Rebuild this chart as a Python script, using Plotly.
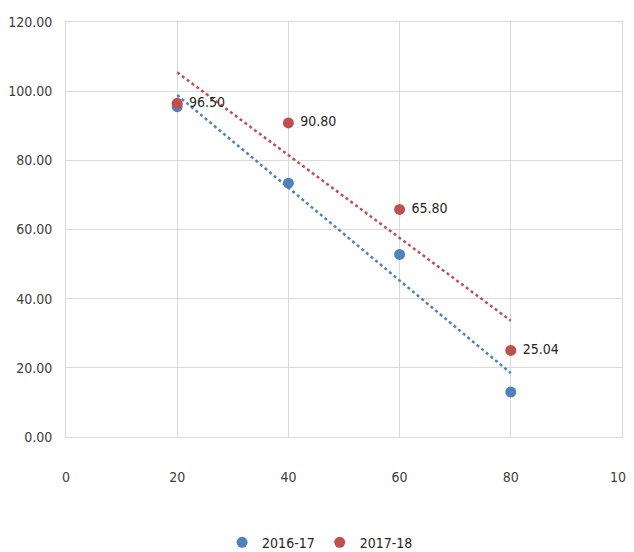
import numpy as np
import plotly.graph_objects as go

x_vals = [20, 40, 60, 80]
series_2016_17 = [95.5, 73.4, 52.8, 13.0]
series_2017_18 = [96.50, 90.80, 65.80, 25.04]
labels_2017_18 = ["96.50", "90.80", "65.80", "25.04"]
names = ["2016-17", "2017-18"]
colors = ["#4F81BD", "#C0504D"]

FONT = "DejaVu Sans Condensed"

fig = go.Figure()

# linear trendlines (least squares) over the data range
for ys, c in zip([series_2016_17, series_2017_18], colors):
    m, b = np.polyfit(x_vals, ys, 1)
    xt = [min(x_vals), max(x_vals)]
    fig.add_trace(go.Scatter(x=xt, y=[m * v + b for v in xt], mode="lines",
                             line=dict(color=c, width=2.5, dash="dot"),
                             showlegend=False, hoverinfo="skip"))

fig.add_trace(go.Scatter(x=x_vals, y=series_2016_17, mode="markers", name=names[0],
                         marker=dict(color=colors[0], size=11)))
fig.add_trace(go.Scatter(x=x_vals, y=series_2017_18, mode="markers+text", name=names[1],
                         marker=dict(color=colors[1], size=11),
                         text=labels_2017_18, textposition="middle right",
                         texttemplate=" %{text}",
                         textfont=dict(family=FONT, size=14, color="#262626")))

axis_common = dict(showgrid=True, gridcolor="#D9D9D9", gridwidth=1,
                   showline=True, linecolor="#D9D9D9", linewidth=1, mirror=True,
                   zeroline=False, ticks="", automargin=False,
                   ticklabeloverflow="allow",
                   tickfont=dict(family=FONT, size=14, color="#404040"))

fig.update_xaxes(range=[0, 100], dtick=20, tick0=0, ticklabelstandoff=27, **axis_common)
fig.update_yaxes(range=[0, 120], dtick=20, tick0=0, tickformat=".2f", ticklabelstandoff=10,
                 **axis_common)

fig.update_layout(
    width=626, height=544,
    margin=dict(l=58, r=12, t=14, b=115),
    paper_bgcolor="white", plot_bgcolor="white",
    showlegend=True,
    legend=dict(orientation="h", x=0.457, xanchor="center",
                yref="container", y=0.017, yanchor="middle",
                font=dict(family=FONT, size=14, color="#262626"),
                itemwidth=30, tracegroupgap=0),
    font=dict(family=FONT),
)

fig.write_html("out.html")
